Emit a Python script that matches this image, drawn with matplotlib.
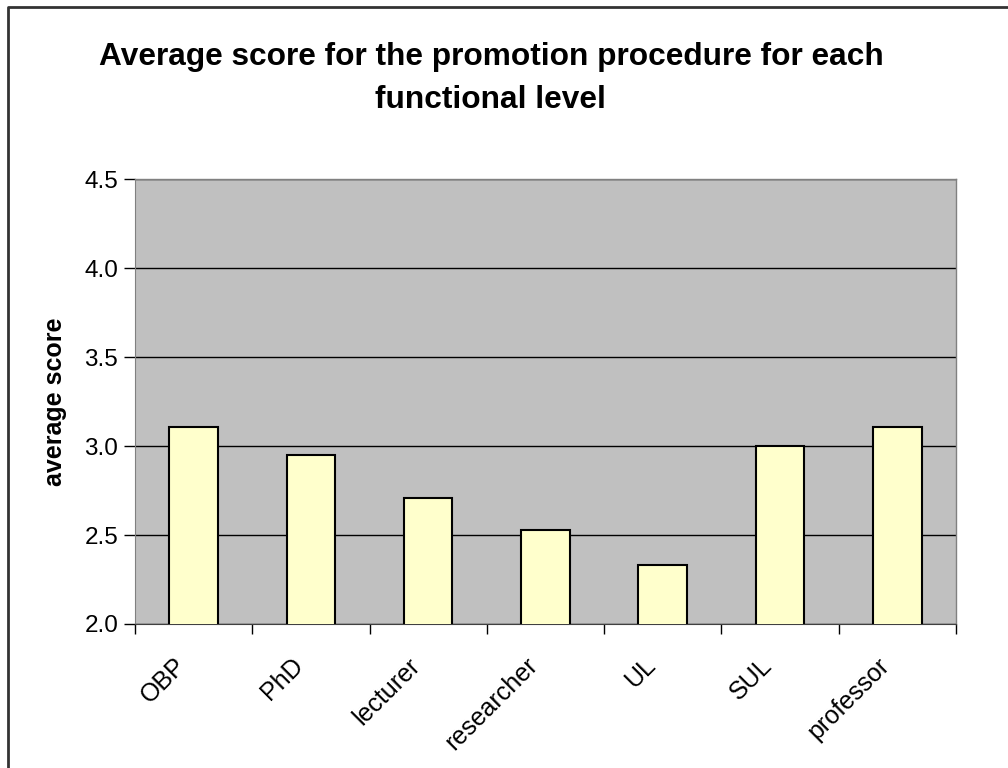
import numpy as np
import matplotlib.pyplot as plt
import matplotlib.transforms as mtrans
from matplotlib.lines import Line2D

plt.rcParams['font.family'] = ['Liberation Sans', 'DejaVu Sans']

levels = ['OBP', 'PhD', 'lecturer', 'researcher', 'UL', 'SUL', 'professor']
scores = [3.11, 2.95, 2.71, 2.53, 2.33, 3.00, 3.11]
y_ticks = [2.0, 2.5, 3.0, 3.5, 4.0, 4.5]

fig = plt.figure(figsize=(10.08, 7.68), dpi=100)
ax = fig.add_axes([0.1339, 0.1875, 0.8145, 0.5788])

x = np.arange(len(levels))
ax.bar(x, scores, width=0.414, bottom=0, color='#FFFFCC', edgecolor='black',
       linewidth=1.5, zorder=3)

ax.set_facecolor('#C0C0C0')
ax.set_ylim(2.0, 4.5)
ax.set_xlim(-0.5, len(levels) - 0.5)
ax.set_yticks(y_ticks)
ax.set_yticklabels(['%.1f' % v for v in y_ticks], fontsize=17.5)
ax.yaxis.grid(True, color='black', linewidth=1.0, zorder=1)
ax.set_axisbelow(True)

# ticks sit between the categories, labels under the bar centres
ax.set_xticks(np.arange(-0.5, len(levels), 1.0))
ax.set_xticklabels([])
ax.set_xticks(x, minor=True)
ax.set_xticklabels(levels, minor=True, rotation=45, ha='right', va='top',
                   rotation_mode='anchor', fontsize=18)
ax.tick_params(axis='x', which='minor', length=0, pad=21)
ax.tick_params(axis='x', which='major', length=7, width=1, direction='out')
ax.tick_params(axis='y', length=8, width=1, direction='out', pad=4)

shift = mtrans.ScaledTranslation(-20 / 100, 0, fig.dpi_scale_trans)
for lbl in ax.get_xticklabels(minor=True):
    lbl.set_transform(lbl.get_transform() + shift)

for side in ['top', 'right']:
    ax.spines[side].set_color('#808080')
    ax.spines[side].set_linewidth(1.0)
ax.spines['left'].set_color('#808080')
ax.spines['bottom'].set_color('#404040')

ax.set_ylabel('average score', fontsize=18, fontweight='bold')
ax.yaxis.set_label_coords(-0.083, 0.5)

fig.text(0.487, 0.926, 'Average score for the promotion procedure for each',
         ha='center', va='center', fontsize=22.8, fontweight='bold')
fig.text(0.487, 0.870, 'functional level',
         ha='center', va='center', fontsize=22.8, fontweight='bold')

# chart frame, left and top edges
fig.add_artist(Line2D([8 / 1008, 8 / 1008, 1.0], [0.0, 1 - 7 / 768, 1 - 7 / 768],
                      transform=fig.transFigure, color='#333333', linewidth=2))

fig.savefig('out.png', dpi=100)
